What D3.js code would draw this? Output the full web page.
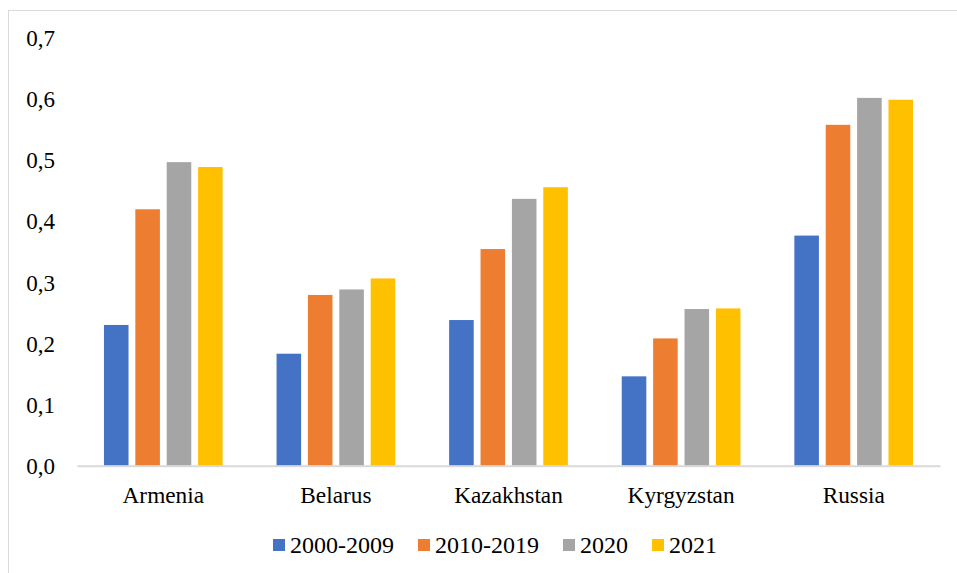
<!DOCTYPE html>
<html>
<head>
<meta charset="utf-8">
<script src="https://cdn.jsdelivr.net/npm/d3@7/dist/d3.min.js"></script>
<style>
  html, body { margin: 0; padding: 0; background: #fff; }
  svg { display: block; }
  text { font-family: "Liberation Serif", "Times New Roman", serif; fill: #000; }
</style>
</head>
<body>
<svg id="chart" width="957" height="573"></svg>
<script>
const categories = ["Armenia", "Belarus", "Kazakhstan", "Kyrgyzstan", "Russia"];
const seriesNames = ["2000-2009", "2010-2019", "2020", "2021"];
const seriesColors = ["#4472C4", "#ED7D31", "#A5A5A5", "#FFC000"];
const values2000_2009 = [0.230, 0.183, 0.238, 0.146, 0.376];
const values2010_2019 = [0.419, 0.279, 0.354, 0.208, 0.557];
const values2020 = [0.496, 0.288, 0.436, 0.256, 0.601];
const values2021 = [0.488, 0.306, 0.455, 0.257, 0.598];
const yTicks = [0, 0.1, 0.2, 0.3, 0.4, 0.5, 0.6, 0.7];

const seriesValues = [values2000_2009, values2010_2019, values2020, values2021];

const svg = d3.select("#chart");
const serif = '"Liberation Serif", "Times New Roman", serif';

// chart frame
svg.append("rect")
  .attr("x", 8.5).attr("y", 10.5)
  .attr("width", 1000).attr("height", 1000)
  .attr("fill", "none").attr("stroke", "#d9d9d9").attr("stroke-width", 1);

const plotLeft = 77, plotRight = 940, plotTop = 37.3, plotBottom = 465.7;

const y = d3.scaleLinear().domain([0, 0.7]).range([plotBottom, plotTop]);
const x0 = d3.scaleBand().domain(categories).range([plotLeft, plotRight]).padding(0);
const groupFrac = 118.7 / 172.6;
const bw = x0.bandwidth();
const x1 = d3.scaleBand().domain(seriesNames)
  .range([bw * (1 - groupFrac) / 2, bw * (1 + groupFrac) / 2])
  .paddingInner(0.217).paddingOuter(0);

const fmt = v => d3.format(".1f")(v).replace(".", ",");

// y axis labels (no line, no ticks)
const yAxis = d3.axisLeft(y).tickValues(yTicks).tickFormat(fmt).tickSize(0).tickPadding(0);
const yg = svg.append("g").attr("transform", `translate(55,0)`).call(yAxis)
  .attr("font-family", serif).attr("font-size", 23);
yg.select(".domain").remove();
yg.selectAll("text")
  .style("font-family", serif)
  .style("font-size", "23px").attr("fill", "#000")
  .attr("dy", "0.35em");

// bars
const groups = svg.append("g").selectAll("g")
  .data(categories)
  .join("g")
  .attr("transform", d => `translate(${x0(d)},0)`);

groups.selectAll("rect")
  .data((d, i) => seriesNames.map((s, j) => ({ s, j, v: seriesValues[j][i] })))
  .join("rect")
  .attr("x", d => x1(d.s))
  .attr("width", x1.bandwidth())
  .attr("y", d => y(d.v))
  .attr("height", d => y(0) - y(d.v))
  .attr("fill", d => seriesColors[d.j]);

// x axis
const xAxis = d3.axisBottom(x0).tickSize(0).tickPadding(0);
const xg = svg.append("g").attr("transform", `translate(0,${plotBottom})`).call(xAxis)
  .attr("font-family", serif).attr("font-size", 23);
xg.select(".domain").attr("stroke", "#d9d9d9").attr("stroke-width", 2);
xg.selectAll("text")
  .style("font-family", serif)
  .style("font-size", "23.3px").attr("fill", "#000")
  .attr("y", 37).attr("dy", 0);

// legend
const legend = svg.append("g");
let lx = 273;
seriesNames.forEach((s, j) => {
  legend.append("rect").attr("x", lx).attr("y", 539).attr("width", 12).attr("height", 12)
    .attr("fill", seriesColors[j]);
  const t = legend.append("text").attr("x", lx + 17).attr("y", 553)
    .style("font-family", serif)
    .style("font-size", "24px").text(s);
  lx += 17 + t.node().getComputedTextLength() + 24;
});
</script>
</body>
</html>
